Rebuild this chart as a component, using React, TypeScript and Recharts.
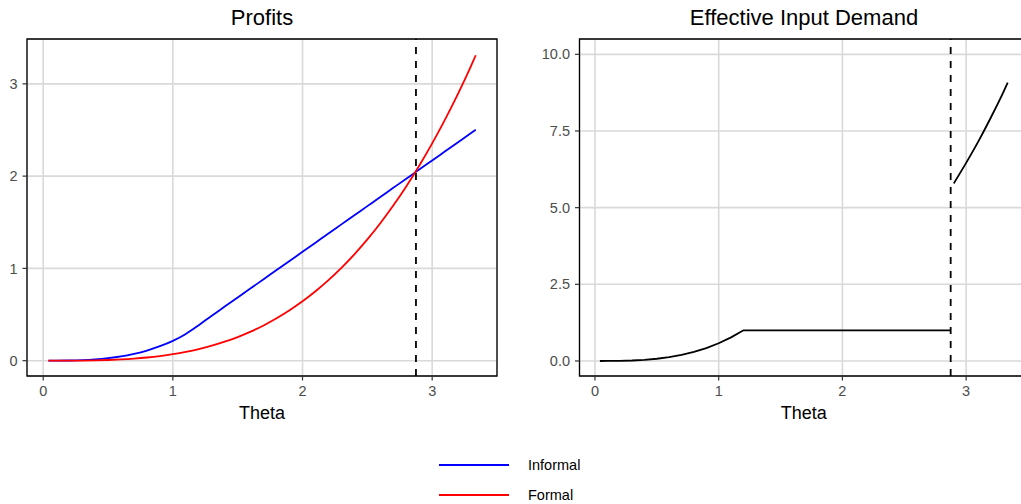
import React from "react";
import {
  LineChart,
  Line,
  XAxis,
  YAxis,
  CartesianGrid,
  ReferenceLine,
  ReferenceArea
} from "recharts";

// theta grid
const theta = [
  0.04, 0.1, 0.2, 0.3, 0.4, 0.5, 0.6, 0.7, 0.8, 0.9, 1.0, 1.1, 1.2, 1.3, 1.4, 1.5, 1.6, 1.7, 1.8, 1.9,
  2.0, 2.1, 2.2, 2.3, 2.4, 2.5, 2.6, 2.7, 2.8, 2.875, 2.9, 3.0, 3.1, 3.2, 3.3, 3.336
];

const informalProfit = [
  0.0, 0.0002, 0.002, 0.006, 0.014, 0.027, 0.046, 0.074, 0.11, 0.157, 0.215, 0.29, 0.385, 0.487,
  0.586, 0.685, 0.784, 0.883, 0.982, 1.081, 1.18, 1.279, 1.378, 1.477, 1.576, 1.675, 1.774, 1.873,
  1.972, 2.046, 2.071, 2.17, 2.269, 2.368, 2.467, 2.503
];

const formalProfit = [
  0.0, 0.0, 0.0004, 0.0015, 0.0037, 0.0076, 0.0137, 0.0224, 0.0343, 0.05, 0.07, 0.095, 0.1255,
  0.162, 0.2055, 0.256, 0.315, 0.382, 0.459, 0.546, 0.643, 0.752, 0.873, 1.006, 1.153, 1.314, 1.49,
  1.681, 1.888, 2.055, 2.113, 2.355, 2.615, 2.894, 3.194, 3.31
];

const informalDemand = [
  0.0, 0.0006, 0.0046, 0.0156, 0.037, 0.072, 0.125, 0.198, 0.296, 0.422, 0.579, 0.77, 1.0, 1.0, 1.0,
  1.0, 1.0, 1.0, 1.0, 1.0, 1.0, 1.0, 1.0, 1.0, 1.0, 1.0, 1.0, 1.0, 1.0, 1.0, null, null, null, null,
  null, null
];

const formalDemand = [
  null, null, null, null, null, null, null, null, null, null, null, null, null, null, null, null,
  null, null, null, null, null, null, null, null, null, null, null, null, null, null, 5.79, 6.46,
  7.17, 7.94, 8.76, 9.08
];

const cutoff = 2.875;
const xTicks = [0, 1, 2, 3];
const profitTicks = [0, 1, 2, 3];
const demandTicks = [0, 2.5, 5, 7.5, 10];

const xDomain: [number, number] = [-0.125, 3.5];
const profitDomain: [number, number] = [-0.166, 3.486];
const demandDomain: [number, number] = [-0.49, 10.5];

const profitRows = theta.map((t, i) => ({
  theta: t,
  informal: informalProfit[i],
  formal: formalProfit[i]
}));

const demandRows = theta.map((t, i) => ({
  theta: t,
  informal: informalDemand[i],
  formal: formalDemand[i]
}));

const FONT = "'Liberation Sans', Arial, Helvetica, sans-serif";

const tickStyle = { fill: "#4d4d4d", fontSize: 14.5, fontFamily: FONT };
const tickLineStyle = { stroke: "#333333", strokeWidth: 1.2 };
const gridColor = "#d9d9d9";
const margin = { top: 39, right: 13, bottom: 4, left: 0 };

function xAxisEl() {
  return (
    <XAxis
      type="number"
      dataKey="theta"
      domain={xDomain}
      ticks={xTicks}
      allowDataOverflow
      axisLine={false}
      tickLine={tickLineStyle}
      tickSize={4.5}
      tickMargin={5}
      tick={tickStyle}
      height={50}
      label={{
        value: "Theta",
        position: "insideBottom",
        offset: 7,
        fill: "#000",
        fontSize: 18,
        fontFamily: FONT
      }}
    />
  );
}

function ProfitsPanel() {
  return (
    <LineChart width={510} height={430} data={profitRows} margin={margin}>
      <CartesianGrid stroke={gridColor} strokeWidth={1.6} />
      {xAxisEl()}
      <YAxis
        type="number"
        domain={profitDomain}
        ticks={profitTicks}
        allowDataOverflow
        width={27}
        axisLine={false}
        tickLine={tickLineStyle}
        tickSize={4.5}
        tickMargin={5}
        tick={tickStyle}
      />
      <Line
        type="monotone"
        dataKey="informal"
        stroke="#0000ff"
        strokeWidth={1.8}
        dot={false}
        isAnimationActive={false}
      />
      <Line
        type="monotone"
        dataKey="formal"
        stroke="#ff0000"
        strokeWidth={1.8}
        dot={false}
        isAnimationActive={false}
      />
      <ReferenceLine x={cutoff} stroke="#000" strokeWidth={1.8} strokeDasharray="7 7" />
      <ReferenceArea
        x1={xDomain[0]}
        x2={xDomain[1]}
        y1={profitDomain[0]}
        y2={profitDomain[1]}
        fill="none"
        fillOpacity={0}
        stroke="#000"
        strokeWidth={1.3}
        ifOverflow="visible"
      />
    </LineChart>
  );
}

function DemandPanel() {
  return (
    <LineChart width={531} height={430} data={demandRows} margin={margin}>
      <CartesianGrid stroke={gridColor} strokeWidth={1.6} />
      {xAxisEl()}
      <YAxis
        type="number"
        domain={demandDomain}
        ticks={demandTicks}
        allowDataOverflow
        width={69.5}
        axisLine={false}
        tickLine={tickLineStyle}
        tickSize={4.5}
        tickMargin={5}
        tick={tickStyle}
        tickFormatter={(v: number) => v.toFixed(1)}
      />
      <Line
        type="linear"
        dataKey="informal"
        stroke="#000"
        strokeWidth={1.8}
        dot={false}
        connectNulls={false}
        isAnimationActive={false}
      />
      <Line
        type="monotone"
        dataKey="formal"
        stroke="#000"
        strokeWidth={1.8}
        dot={false}
        connectNulls={false}
        isAnimationActive={false}
      />
      <ReferenceLine x={cutoff} stroke="#000" strokeWidth={1.8} strokeDasharray="7 7" />
      <ReferenceArea
        x1={xDomain[0]}
        x2={xDomain[1]}
        y1={demandDomain[0]}
        y2={demandDomain[1]}
        fill="none"
        fillOpacity={0}
        stroke="#000"
        strokeWidth={1.3}
        ifOverflow="visible"
      />
    </LineChart>
  );
}

const legendItems = [
  { name: "Informal", color: "#0000ff" },
  { name: "Formal", color: "#ff0000" }
];

export default function App() {
  return (
    <div
      style={{
        position: "absolute",
        left: 0,
        top: 0,
        width: 1021,
        height: 504,
        overflow: "hidden",
        background: "#fff",
        fontFamily: FONT
      }}
    >
      <div style={{ position: "absolute", left: 0, top: 0 }}>
        <ProfitsPanel />
      </div>
      <div style={{ position: "absolute", left: 510, top: 0 }}>
        <DemandPanel />
      </div>
      <svg
        width={1021}
        height={504}
        style={{ position: "absolute", left: 0, top: 0, pointerEvents: "none" }}
      >
        <text x={262} y={25} textAnchor="middle" fontSize={22} fontFamily={FONT} fill="#000">
          Profits
        </text>
        <text x={804} y={25} textAnchor="middle" fontSize={22} fontFamily={FONT} fill="#000">
          Effective Input Demand
        </text>
        {legendItems.map((d, i) => (
          <g key={d.name}>
            <line x1={439} x2={509} y1={465 + i * 30} y2={465 + i * 30} stroke={d.color} strokeWidth={2} />
            <text x={528} y={470 + i * 30} fontSize={14.5} fontFamily={FONT} fill="#000">
              {d.name}
            </text>
          </g>
        ))}
      </svg>
    </div>
  );
}
